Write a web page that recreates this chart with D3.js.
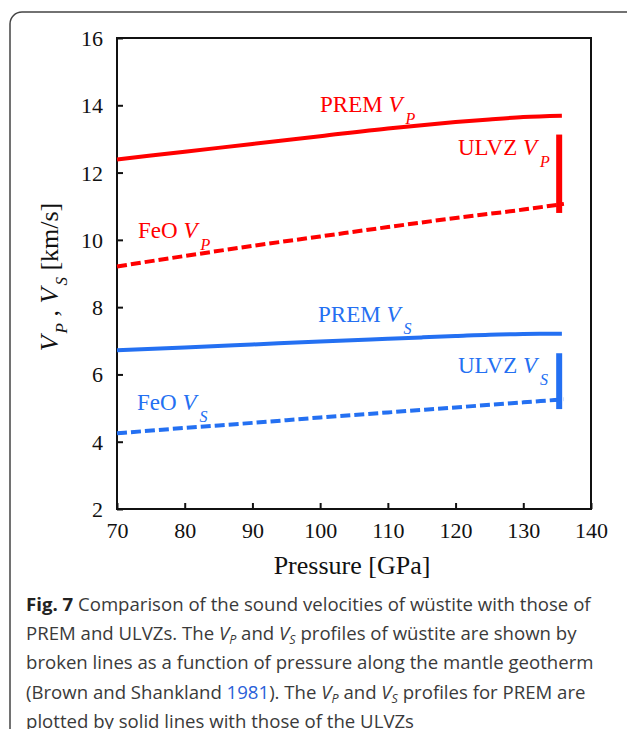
<!DOCTYPE html>
<html>
  <head>
    <meta charset="utf-8">
    <title>Sound velocities</title>
    <script src="https://d3js.org/d3.v7.min.js"></script>
    <style>
      body { margin: 0; background: #fff; }
    </style>
  </head>
  <body>
    <div id="chart"></div>
    <script>
      // Data (pressure in GPa, velocity in km/s)
      var pressure  = [70, 80, 90, 100, 110, 115, 120, 125, 130, 135.7];
      var premVp    = [12.39, 12.62, 12.85, 13.08, 13.31, 13.41, 13.5, 13.58, 13.65, 13.69];
      var premVs    = [6.72, 6.8, 6.89, 6.98, 7.06, 7.1, 7.14, 7.18, 7.2, 7.21];
      var feoP      = [70, 80, 90, 100, 110, 120, 130, 136];
      var feoVp     = [9.21, 9.52, 9.82, 10.1, 10.38, 10.65, 10.9, 11.07];
      var feoVs     = [4.25, 4.41, 4.56, 4.72, 4.87, 5.02, 5.17, 5.26];
      var ulvzP     = 135.3;
      var ulvzVp    = [10.8, 13.13];
      var ulvzVs    = [4.97, 6.63];
      var xTicks    = [70, 80, 90, 100, 110, 120, 130, 140];
      var yTicks    = [2, 4, 6, 8, 10, 12, 14, 16];

      var red = "#ff0000", blue = "#2470f2";
      var serif = "'Liberation Serif', 'Times New Roman', serif";

      var W = 627, H = 729;
      var svg = d3.select("#chart").append("svg")
        .attr("width", W).attr("height", H);

      // figure frame
      svg.append("rect")
        .attr("x", 10).attr("y", 12)
        .attr("width", 640).attr("height", 760)
        .attr("rx", 12)
        .attr("fill", "none")
        .attr("stroke", "#444")
        .attr("stroke-width", 1.5);

      var plot = {left: 117, right: 591, top: 38, bottom: 509};

      var x = d3.scaleLinear().domain([70, 140]).range([plot.left, plot.right]);
      var y = d3.scaleLinear().domain([2, 16]).range([plot.bottom, plot.top]);

      // axes with inward ticks
      var gx = svg.append("g")
        .attr("transform", "translate(0," + plot.bottom + ")")
        .call(d3.axisBottom(x).tickValues(xTicks).tickSizeInner(-6).tickSizeOuter(0).tickPadding(13));
      var gy = svg.append("g")
        .attr("transform", "translate(" + plot.left + ",0)")
        .call(d3.axisLeft(y).tickValues(yTicks).tickSizeInner(-6).tickSizeOuter(0).tickPadding(14));

      [gx, gy].forEach(function(g) {
        g.select(".domain").remove();
        g.selectAll("line").attr("stroke", "#111").attr("stroke-width", 2);
        g.selectAll("text")
          .attr("font-family", serif)
          .attr("font-size", 22)
          .attr("fill", "#111");
      });
      gy.selectAll("text").attr("dy", "0.34em");

      // box
      svg.append("rect")
        .attr("x", plot.left).attr("y", plot.top)
        .attr("width", plot.right - plot.left).attr("height", plot.bottom - plot.top)
        .attr("fill", "none")
        .attr("stroke", "#111")
        .attr("stroke-width", 2);

      var line = d3.line()
        .x(function(d) { return x(d[0]); })
        .y(function(d) { return y(d[1]); })
        .curve(d3.curveMonotoneX);

      function series(px, vals, color, dashed) {
        svg.append("path")
          .datum(d3.zip(px, vals))
          .attr("d", line)
          .attr("fill", "none")
          .attr("stroke", color)
          .attr("stroke-width", 4)
          .attr("stroke-dasharray", dashed ? "10,4" : null);
      }

      series(pressure, premVp, red, false);
      series(pressure, premVs, blue, false);
      series(feoP, feoVp, red, true);
      series(feoP, feoVs, blue, true);

      // ULVZ ranges
      [[ulvzVp, red], [ulvzVs, blue]].forEach(function(u) {
        svg.append("line")
          .attr("x1", x(ulvzP)).attr("x2", x(ulvzP))
          .attr("y1", y(u[0][0])).attr("y2", y(u[0][1]))
          .attr("stroke", u[1])
          .attr("stroke-width", 6);
      });

      // series labels: name, subscript, x, baseline, colour
      function label(name, sub, lx, ly, color) {
        var t = svg.append("text")
          .attr("x", lx).attr("y", ly)
          .attr("font-family", serif)
          .attr("font-size", 23)
          .attr("fill", color);
        t.append("tspan").text(name + " ");
        t.append("tspan").attr("font-style", "italic").text("V");
        t.append("tspan").attr("font-style", "italic").attr("font-size", 16)
          .attr("dx", 3).attr("dy", 12).text(sub);
      }
      label("PREM", "P", 320, 112, red);
      label("ULVZ", "P", 458, 155, red);
      label("FeO", "P", 138, 238, red);
      label("PREM", "S", 318, 322, blue);
      label("ULVZ", "S", 458, 373, blue);
      label("FeO", "S", 137, 410, blue);

      // axis titles
      svg.append("text")
        .attr("x", (plot.left + plot.right) / 2 - 2).attr("y", 574)
        .attr("text-anchor", "middle")
        .attr("font-family", serif)
        .attr("font-size", 26)
        .attr("fill", "#111")
        .text("Pressure [GPa]");

      var yt = svg.append("text")
        .attr("transform", "translate(58,277) rotate(-90)")
        .attr("text-anchor", "middle")
        .attr("font-family", serif)
        .attr("font-size", 26)
        .attr("fill", "#111");
      yt.append("tspan").attr("font-style", "italic").text("V");
      yt.append("tspan").attr("font-style", "italic").attr("font-size", 17).attr("dx", 2).attr("dy", 9).text("P");
      yt.append("tspan").attr("dy", -9).text(" , ");
      yt.append("tspan").attr("font-style", "italic").text("V");
      yt.append("tspan").attr("font-style", "italic").attr("font-size", 17).attr("dx", 2).attr("dy", 9).text("S");
      yt.append("tspan").attr("dy", -9).text(" [km/s]");

      // caption
      var capFont = "'Open Sans', 'Noto Sans', sans-serif";
      var cap = [
        [["b", "Fig. 7"], ["", " Comparison of the sound velocities of wüstite with those of"]],
        [["", "PREM and ULVZs. The "], ["v", "P"], ["", " and "], ["v", "S"], ["", " profiles of wüstite are shown by"]],
        [["", "broken lines as a function of pressure along the mantle geotherm"]],
        [["", "(Brown and Shankland "], ["l", "1981"], ["", "). The "], ["v", "P"], ["", " and "], ["v", "S"], ["", " profiles for PREM are"]],
        [["", "plotted by solid lines with those of the ULVZs"]]
      ];
      cap.forEach(function(parts, i) {
        var t = svg.append("text")
          .attr("x", 26).attr("y", 611 + i * 29.2)
          .attr("font-family", capFont)
          .attr("font-size", 18.6)
          .attr("fill", "#3a3a3a");
        var shift = 0;
        parts.forEach(function(p) {
          if (p[0] === "v") {
            t.append("tspan").attr("font-style", "italic").attr("dy", -shift).text("V");
            t.append("tspan").attr("font-style", "italic").attr("font-size", 12.5)
              .attr("dy", 4).text(p[1]);
            shift = 4;
            return;
          }
          var s = t.append("tspan").attr("dy", -shift).text(p[1]);
          shift = 0;
          if (p[0] === "b") s.attr("font-weight", "bold").attr("fill", "#222");
          if (p[0] === "l") s.attr("fill", "#2b5fd9");
        });
      });
    </script>
  </body>
</html>
